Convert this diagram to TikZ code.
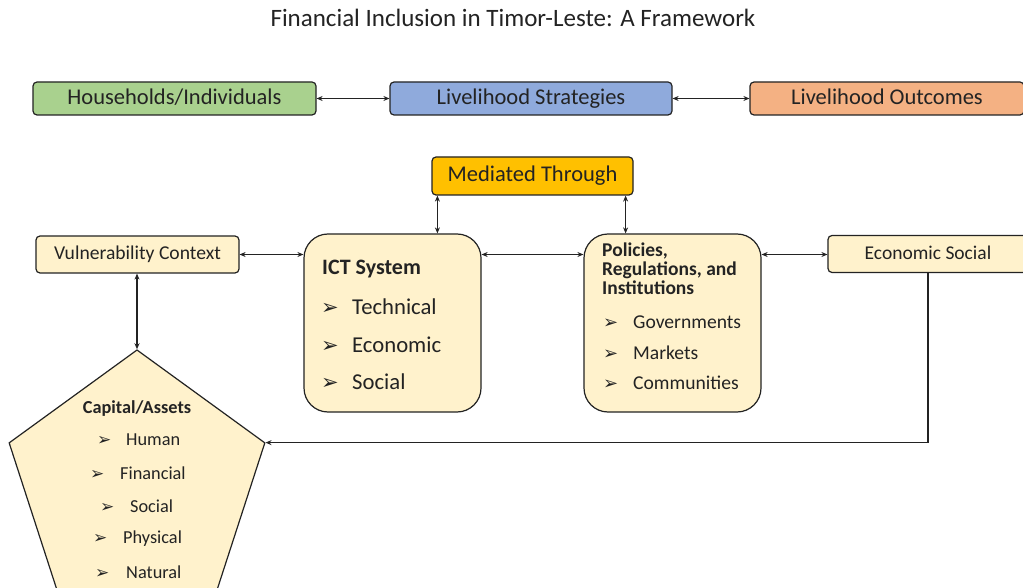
\documentclass[tikz,border=0pt]{standalone}
\usepackage{fontspec}
\setmainfont{Carlito}
\newfontfamily\symfont{DejaVu Sans}
\usetikzlibrary{arrows.meta,shapes.geometric}

\definecolor{hhgreen}{RGB}{169,209,142}
\definecolor{lsblue}{RGB}{143,170,220}
\definecolor{loorange}{RGB}{244,177,131}
\definecolor{medgold}{RGB}{255,192,0}
\definecolor{cream}{RGB}{255,242,204}
\definecolor{ink}{RGB}{35,35,35}

\newcommand{\fs}[1]{\fontsize{#1}{#1}\selectfont}
% arrowhead bullet: glyph size, then the room it takes before the item text
\newcommand{\bul}[2]{\makebox[#2][l]{\symfont\fontsize{#1}{#1}\selectfont ➢}}

\tikzset{
  box/.style={draw=ink, line width=1.2pt, rounded corners=4pt, inner sep=0pt,
              text=ink},
  bigbox/.style={draw=ink, line width=1.2pt, rounded corners=24pt, fill=cream,
              inner sep=0pt},
  arr/.style={{Stealth[length=6pt,width=5pt]}-{Stealth[length=6pt,width=5pt]},
              draw=ink, line width=1.1pt},
  onearr/.style={-{Stealth[length=6pt,width=5pt]}, draw=ink, line width=1.1pt},
  lbl/.style={text=ink, inner sep=0pt, anchor=west},
}

\begin{document}
\begin{tikzpicture}[x=1pt,y=-1pt]
\useasboundingbox[fill=white] (0,0) rectangle (1023,588);

% title
\node[text=ink, inner sep=0pt] (title) at (513,20) {\fs{25}Financial Inclusion in Timor-Leste: A Framework\vphantom{g}};

% top row
\node[box, fill=hhgreen, minimum width=283pt, minimum height=33pt] (hh) at (174.5,98.5)
  {\fs{22.5}Households/Individuals\vphantom{g}};
\node[box, fill=lsblue, minimum width=282pt, minimum height=33pt] (ls) at (531,98.5)
  {\fs{22.5}Livelihood Strategies\vphantom{g}};
\node[box, fill=loorange, minimum width=274pt, minimum height=33pt] (lo) at (887,98.5)
  {\fs{22.5}Livelihood Outcomes\vphantom{g}};

\draw[arr] (hh) -- (ls);
\draw[arr] (ls) -- (lo);

% mediation
\node[box, fill=medgold, minimum width=201pt, minimum height=38pt] (med) at (532.5,176)
  {\fs{22.5}Mediated Through\vphantom{g}};

% middle row
\node[box, fill=cream, minimum width=203pt, minimum height=37pt] (vul) at (137.5,254.5)
  {\fs{19.6}Vulnerability Context\vphantom{g}};
\node[bigbox, minimum width=177pt, minimum height=178pt] (ict) at (392.5,323) {};
\node[bigbox, minimum width=177pt, minimum height=178pt] (pol) at (672.5,323) {};
\node[box, fill=cream, minimum width=200pt, minimum height=37pt] (eco) at (928,254)
  {\fs{19.5}Economic Social\vphantom{g}};

% ICT system contents
\node[lbl] (ictt) at (322,269) {\fs{22}\textbf{ICT System}};
\node[lbl] (ict1) at (321,307) {\bul{21}{31pt}\fs{22.7}Technical};
\node[lbl] (ict2) at (321,345) {\bul{21}{31pt}\fs{22.7}Economic};
\node[lbl] (ict3) at (321,382) {\bul{21}{31pt}\fs{22.7}Social};

% policies contents
\node[lbl, anchor=north west, align=left] (polt) at (602,243)
  {\fs{19.5}\textbf{Policies,}\\[1pt]\fs{19.5}\textbf{Regulations, and}\\[1pt]\fs{19.5}\textbf{Institutions}};
\node[lbl] (pol1) at (603,322) {\bul{18}{30pt}\fs{19.6}Governments};
\node[lbl] (pol2) at (603,353) {\bul{18}{30pt}\fs{19.6}Markets};
\node[lbl] (pol3) at (603,383) {\bul{18}{30pt}\fs{19.6}Communities};

% capital / assets pentagon
\node[regular polygon, regular polygon sides=5, minimum size=268.8pt, inner sep=0pt,
      draw=ink, line width=1.2pt, fill=cream] (cap) at (137,484.4) {};
\node[text=ink, inner sep=0pt] (capt) at (137,409) {\fs{18.3}\textbf{Capital/Assets}};
\node[lbl] (cap1) at (97,440) {\bul{17}{29pt}\fs{18.3}Human};
\node[lbl] (cap2) at (90,473) {\bul{17}{30pt}\fs{18.3}Financial};
\node[lbl] (cap3) at (100,506) {\bul{17}{30pt}\fs{18.3}Social};
\node[lbl] (cap4) at (93,539) {\bul{17}{30pt}\fs{18.3}Physical};
\node[lbl] (cap5) at (95,572) {\bul{17}{31pt}\fs{18.3}Natural};

% connectors
\draw[arr] (vul.east) -- (ict.west |- vul.east);
\draw[arr] (ict.east |- vul.east) -- (pol.west |- vul.east);
\draw[arr] (pol.east |- vul.east) -- (eco.west |- vul.east);
\draw[arr] (cap.corner 1 |- vul.south) -- (cap.corner 1);

\coordinate (m1) at ([xshift=6pt]med.south west);
\coordinate (m2) at ([xshift=-8pt]med.south east);
\draw[arr] (m1) -- (m1 |- ict.north);
\draw[arr] (m2) -- (m2 |- pol.north);

\draw[onearr] (eco.south) |- (cap.corner 5);
\end{tikzpicture}
\end{document}
